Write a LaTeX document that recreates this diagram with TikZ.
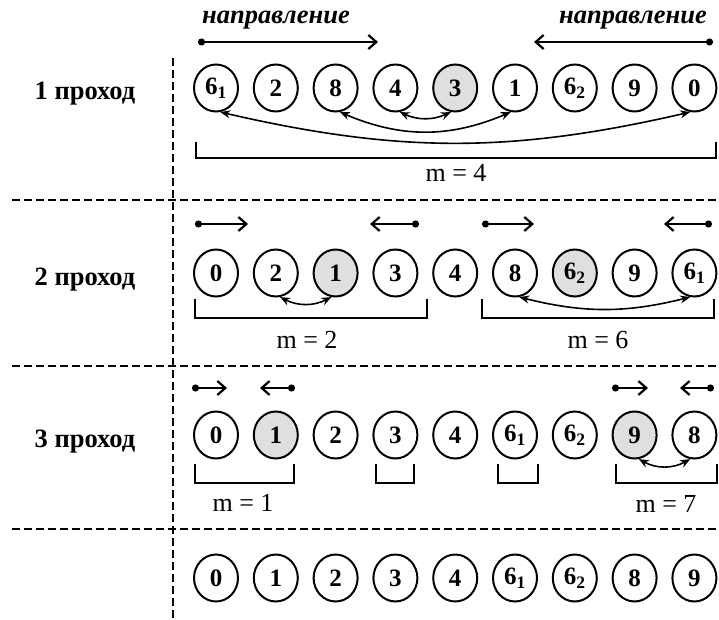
\documentclass[tikz,border=0pt]{standalone}
\usepackage{fontspec}
\setmainfont{Liberation Serif}
\usetikzlibrary{arrows.meta, shapes.geometric, positioning}

\newcommand{\sixsub}[1]{6\textsubscript{#1}}

\begin{document}
\begin{tikzpicture}[
                x=1pt, y=-1pt,
                elem/.style={ellipse, draw=black, line width=2pt, minimum width=44pt, minimum height=47pt, inner sep=0pt, font=\fontsize{25}{25}\selectfont\bfseries},
                pivot/.style={elem, fill=gray!25},
                passlabel/.style={anchor=base, font=\fontsize{26.5}{26.5}\selectfont\bfseries},
                mlabel/.style={font=\fontsize{26}{26}\selectfont},
                dirlabel/.style={font=\fontsize{26.5}{26.5}\selectfont\bfseries\itshape},
                dirarrow/.style={line width=2.2pt, {Circle[length=7pt]}-{Straight Barb[length=8pt,width=14pt]}},
                exch/.style={line width=1.6pt, {Stealth[length=10pt,width=8pt]}-{Stealth[length=10pt,width=8pt]}},
                brk/.style={line width=2pt},
                divider/.style={line width=2pt, dash pattern=on 8pt off 4pt}
            ]

            \useasboundingbox (0,0) rectangle (719,620);

            % Separators
            \draw[divider] (12,200) -- (719,200);
            \draw[divider] (12,366) -- (719,366);
            \draw[divider] (12,529) -- (719,529);
            \draw[divider] (173,58) -- (173,620);

            % Pass labels
            \node[passlabel] (pass-1) at (85,100) {1 проход};
            \node[passlabel] (pass-2) at (85,285) {2 проход};
            \node[passlabel] (pass-3) at (85,447) {3 проход};

            % Direction labels
            \node[dirlabel] (dir-label-1) at (276,20) {направление};
            \node[dirlabel] (dir-label-2) at (633,20) {направление};

            % Pass 1 nodes
            \foreach \i/\t/\s in {1/\sixsub{1}/elem, 2/2/elem, 3/8/elem, 4/4/elem, 5/3/pivot, 6/1/elem, 7/\sixsub{2}/elem, 8/9/elem, 9/0/elem}
            \node[\s] (R1-\i) at ({216+59.8*(\i-1)},88) {\t};

            % Pass 2 nodes
            \foreach \i/\t/\s in {1/0/elem, 2/2/elem, 3/1/pivot, 4/3/elem, 5/4/elem, 6/8/elem, 7/\sixsub{2}/pivot, 8/9/elem, 9/\sixsub{1}/elem}
            \node[\s] (R2-\i) at ({216+59.8*(\i-1)},273) {\t};

            % Pass 3 nodes
            \foreach \i/\t/\s in {1/0/elem, 2/1/pivot, 3/2/elem, 4/3/elem, 5/4/elem, 6/\sixsub{1}/elem, 7/\sixsub{2}/elem, 8/9/pivot, 9/8/elem}
            \node[\s] (R3-\i) at ({216+59.8*(\i-1)},435) {\t};

            % Result
            \foreach \i/\t in {1/0, 2/1, 3/2, 4/3, 5/4, 6/\sixsub{1}, 7/\sixsub{2}, 8/8, 9/9}
            \node[elem] (R4-\i) at ({216+59.8*(\i-1)},578) {\t};

            % Direction arrows
            \foreach \xa/\xb/\y in {198/378/42, 713/534/42,
                                    195/248/224, 419/370/224, 482/534/224, 712/664/224,
                                    192/227/388, 295/260/388, 612/648/388, 714/680/388}
            \draw[dirarrow] (\xa,\y) -- (\xb,\y);

            % Exchanges
            \draw[exch] (R1-4.-80) to[bend right=24] (R1-5.-100);
            \draw[exch] (R1-3.-80) to[bend right=23] (R1-6.-100);
            \draw[exch] (R1-1.-80) to[bend right=13] (R1-9.-100);
            \draw[exch] (R2-2.-80) to[bend right=27] (R2-3.-100);
            \draw[exch] (R2-6.-80) to[bend right=14] (R2-9.-100);
            \draw[exch] (R3-8.-80) to[bend right=29] (R3-9.-100);

            % Brackets
            \draw[brk] (196,142) |- (716,158) -- (716,142);
            \draw[brk] (195,299) |- (427,318) -- (427,299);
            \draw[brk] (482,299) |- (714,318) -- (714,299);
            \draw[brk] (195,464) |- (294,483) -- (294,464);
            \draw[brk] (376,464) |- (414,483) -- (414,464);
            \draw[brk] (498,464) |- (538,483) -- (538,464);
            \draw[brk] (616,464) |- (717,483) -- (717,464);

            % Labels
            \node[mlabel] (m-4) at (456,173) {m = 4};
            \node[mlabel] (m-2) at (307,340) {m = 2};
            \node[mlabel] (m-6) at (598,340) {m = 6};
            \node[mlabel] (m-1) at (243,503) {m = 1};
            \node[mlabel] (m-7) at (666,504) {m = 7};

        \end{tikzpicture}
\end{document}
